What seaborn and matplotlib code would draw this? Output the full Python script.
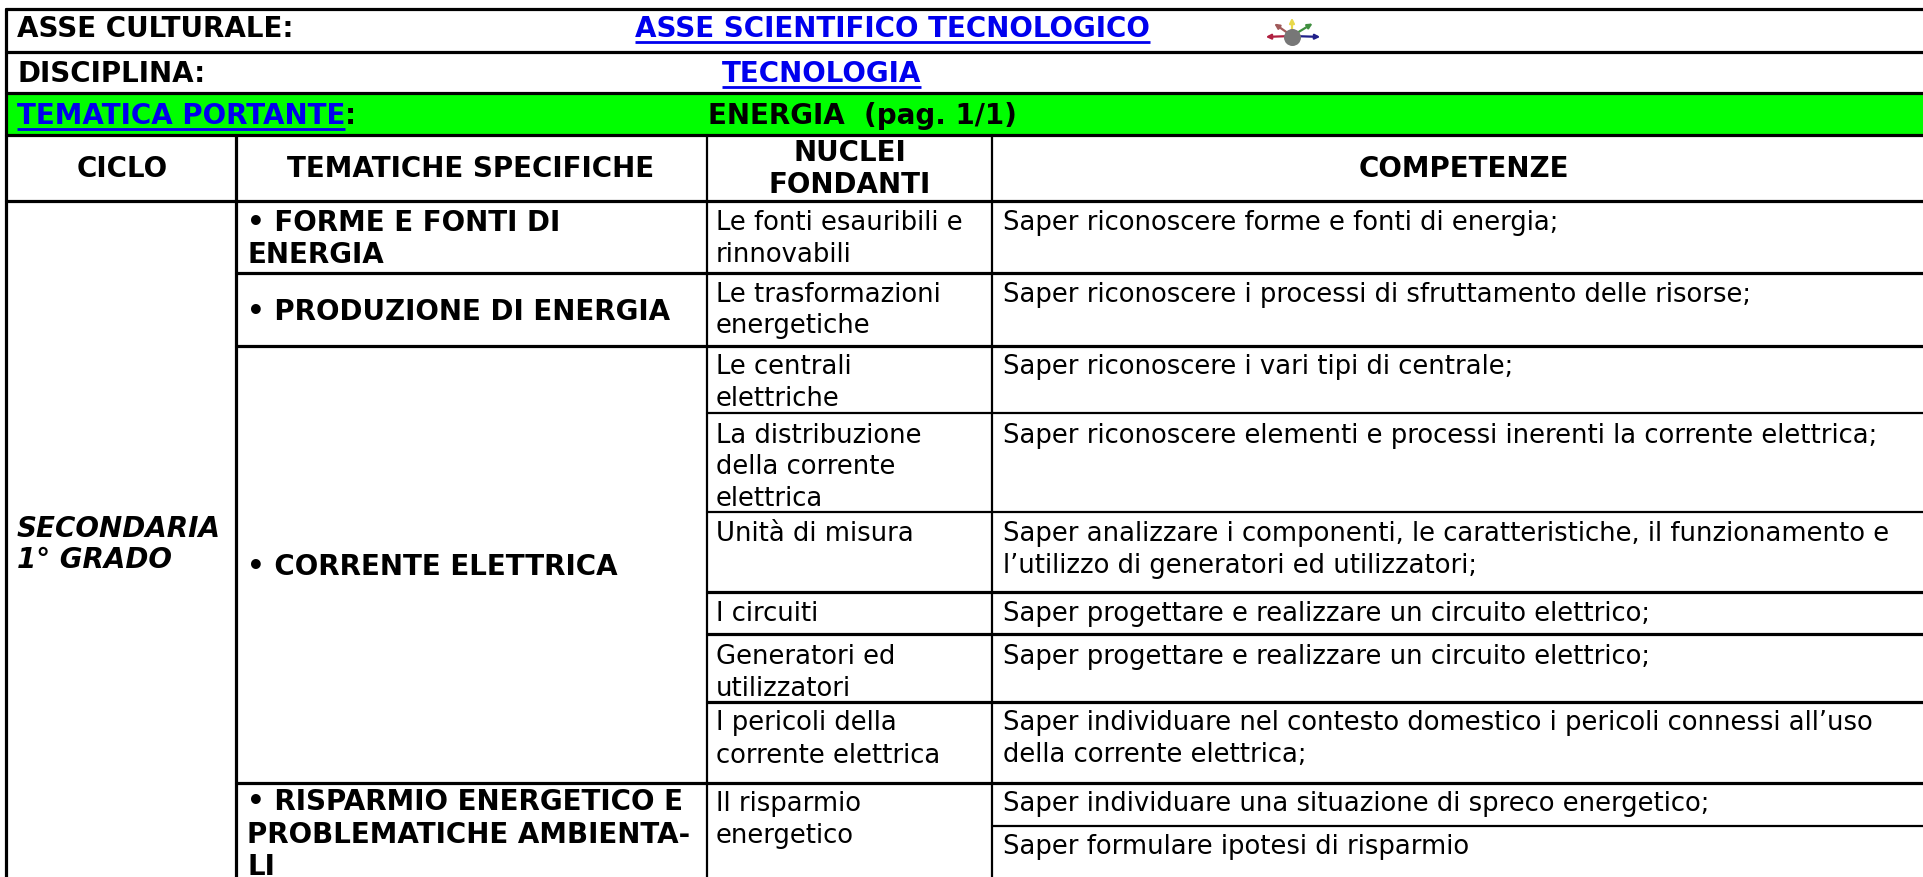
# Table "Tecnologia - Energia" redrawn on a pixel-sized axes
import pandas as pd
import matplotlib.pyplot as plt
import seaborn as sns

W, H = 1923, 877
BODY = 18.6
HEAD = 20.0
BLUE = '#0000ee'
GREEN = '#00ff00'

# table text
asse_label = "ASSE CULTURALE:"
asse_link = "ASSE SCIENTIFICO TECNOLOGICO"
disciplina_label = "DISCIPLINA:"
disciplina_link = "TECNOLOGIA"
tematica_link = "TEMATICA PORTANTE"
tematica_value = "ENERGIA  (pag. 1/1)"
headers = ["CICLO", "TEMATICHE SPECIFICHE", "NUCLEI", "FONDANTI", "COMPETENZE"]
ciclo = ["SECONDARIA", "1° GRADO"]
tematiche = ["• FORME E FONTI DI", "ENERGIA", "• PRODUZIONE DI ENERGIA", "• CORRENTE ELETTRICA",
             "• RISPARMIO ENERGETICO E", "PROBLEMATICHE AMBIENTA-", "LI"]
nuclei = ["Le fonti esauribili e", "rinnovabili", "Le trasformazioni", "energetiche",
          "Le centrali", "elettriche", "La distribuzione", "della corrente", "elettrica",
          "Unità di misura", "I circuiti", "Generatori ed", "utilizzatori",
          "I pericoli della", "corrente elettrica", "Il risparmio", "energetico"]
competenze = ["Saper riconoscere forme e fonti di energia;",
              "Saper riconoscere i processi di sfruttamento delle risorse;",
              "Saper riconoscere i vari tipi di centrale;",
              "Saper riconoscere elementi e processi inerenti la corrente elettrica;",
              "Saper analizzare i componenti, le caratteristiche, il funzionamento e",
              "l’utilizzo di generatori ed utilizzatori;",
              "Saper progettare e realizzare un circuito elettrico;",
              "Saper progettare e realizzare un circuito elettrico;",
              "Saper individuare nel contesto domestico i pericoli connessi all’uso",
              "della corrente elettrica;",
              "Saper individuare una situazione di spreco energetico;",
              "Saper formulare ipotesi di risparmio"]

# layout, in pixels of the reference
ciclo_y = [537, 568]
tematiche_y = [231, 263, 320, 575, 810, 843, 875]
nuclei_y = [230, 262, 302, 333, 374, 406, 443, 474, 506, 541, 621, 664, 696, 730, 763, 811, 843]
competenze_y = [230, 302, 374, 443, 541, 573, 621, 664, 730, 762, 811, 854]

thick_rules = [(6, 9, W, 9), (6, 52, W, 52), (6, 93, W, 93), (6, 135, W, 135), (6, 201, W, 201),
               (236, 273, W, 273), (236, 346, W, 346), (707, 592, W, 592), (707, 634, W, 634),
               (707, 702, W, 702), (236, 783, W, 783),
               (6, 9, 6, H), (236, 135, 236, H)]
thin_rules = [(707, 413, W, 413), (707, 512, W, 512), (992, 826, W, 826),
              (707, 135, 707, H), (992, 135, 992, H)]


def rules_frame(rules):
    rows = []
    for i, (x0, y0, x1, y1) in enumerate(rules):
        rows.append({'rule': i, 'x': x0, 'y': y0})
        rows.append({'rule': i, 'x': x1, 'y': y1})
    return pd.DataFrame(rows)


sns.set_theme(style="white")
plt.rcParams['font.family'] = ['DejaVu Sans']

fig = plt.figure(figsize=(W / 100, H / 100), dpi=100)
ax = fig.add_axes([0, 0, 1, 1])
ax.set_xlim(0, W)
ax.set_ylim(H, 0)
ax.axis('off')

# green band
ax.fill_between([6, W], 93, 135, color=GREEN, linewidth=0, zorder=0)

# table rules
sns.lineplot(data=rules_frame(thick_rules), x='x', y='y', units='rule', estimator=None, sort=False,
             color='black', linewidth=2.3, legend=False, ax=ax)
sns.lineplot(data=rules_frame(thin_rules), x='x', y='y', units='rule', estimator=None, sort=False,
             color='black', linewidth=1.6, legend=False, ax=ax)
ax.set_xlim(0, W)
ax.set_ylim(H, 0)


def put(x, y, s, bold=False, color='black', ha='left', style='normal', size=BODY):
    return ax.text(x, y, s, fontsize=size, fontweight='bold' if bold else 'normal', color=color,
                   ha=ha, va='baseline', fontstyle=style)


def link(x, y, s, ha='left'):
    t = put(x, y, s, bold=True, color=BLUE, ha=ha, size=HEAD)
    box = t.get_window_extent(fig.canvas.get_renderer())
    ax.hlines(y + 4.5, box.x0, box.x1, color=BLUE, linewidth=2)
    return box


put(17, 37, asse_label, bold=True, size=HEAD)
link(635, 37, asse_link)
put(17, 82, disciplina_label, bold=True, size=HEAD)
link(722, 82, disciplina_link)
box = link(17, 124, tematica_link)
put(box.x1, 124, ":", bold=True, size=HEAD)
put(708, 124, tematica_value, bold=True, size=HEAD)

put(122, 177, headers[0], bold=True, ha='center', size=HEAD)
put(471, 177, headers[1], bold=True, ha='center', size=HEAD)
put(850, 161, headers[2], bold=True, ha='center', size=HEAD)
put(850, 193, headers[3], bold=True, ha='center', size=HEAD)
put(1464, 177, headers[4], bold=True, ha='center', size=HEAD)

for y, s in zip(ciclo_y, ciclo):
    put(17, y, s, bold=True, style='italic', size=HEAD)
for y, s in zip(tematiche_y, tematiche):
    put(247, y, s, bold=True, size=HEAD)
for y, s in zip(nuclei_y, nuclei):
    put(716, y, s)
for y, s in zip(competenze_y, competenze):
    put(1003, y, s)

# small axes icon next to the first link
icon_arrows = [(1292, 15, '#e8d84a'), (1315, 22, '#3f8f3f'), (1272, 22, '#a05a5a'),
               (1263, 37, '#b02040'), (1323, 37, '#20208a')]
for x, y, c in icon_arrows:
    ax.annotate("", xy=(x, y), xytext=(1292, 36),
                arrowprops=dict(arrowstyle='-|>', color=c, lw=1.6, mutation_scale=7))
ax.scatter([1292], [37], s=150, color='#777777', zorder=3, linewidth=0)

fig.savefig('out.png', dpi=100)
